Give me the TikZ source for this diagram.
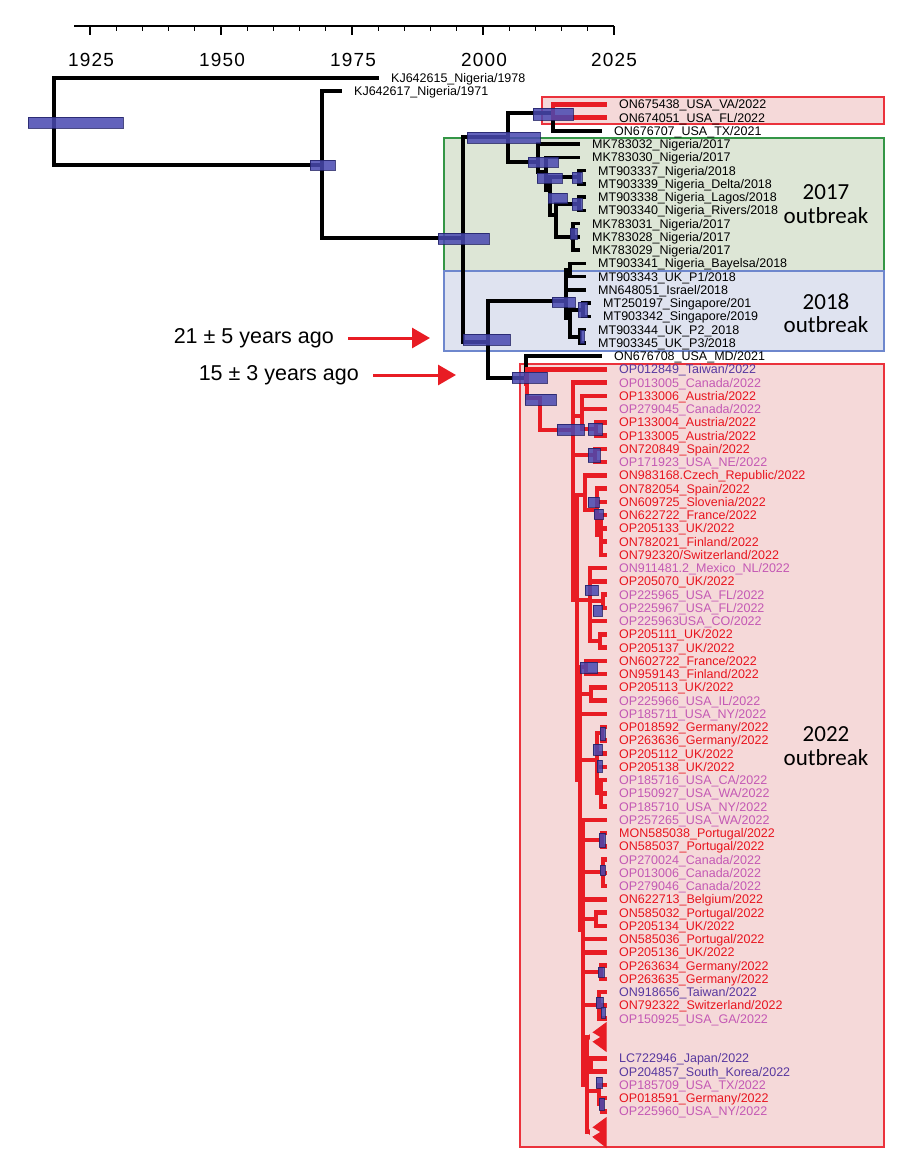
\documentclass[tikz,border=0pt]{standalone}
\usepackage{fontspec}
\setmainfont{Liberation Sans}
\newfontfamily\boxfont{Carlito}
\newfontfamily\axisfont[LetterSpace=6]{Liberation Sans}
\usetikzlibrary{arrows.meta}
\definecolor{treered}{RGB}{232,28,36}
\definecolor{labred}{RGB}{232,20,30}
\definecolor{labpink}{RGB}{196,88,180}
\definecolor{labpurple}{RGB}{88,56,160}
\definecolor{hpdblue}{RGB}{72,72,176}
\definecolor{hpdedge}{RGB}{30,30,100}
\definecolor{boxgreen}{RGB}{221,230,214}
\definecolor{edgegreen}{RGB}{52,150,70}
\definecolor{boxblue}{RGB}{223,227,240}
\definecolor{edgeblue}{RGB}{110,135,205}
\definecolor{boxred}{RGB}{245,217,217}
\definecolor{edgered}{RGB}{235,50,60}
\tikzstyle{blk} = [
	line width=3.5pt,
	line cap=rect,
	draw=black
]
\tikzstyle{rd} = [
	line width=4.5pt,
	line cap=rect,
	draw=treered
]
\tikzstyle{hpd} = [
	fill=hpdblue,
	fill opacity=0.85,
	draw=hpdedge,
	draw opacity=0.8,
	line width=0.6pt
]
\tikzstyle{leaf} = [
	anchor=west,
	inner xsep=14pt,
	inner ysep=0pt,
	text height=8.9pt,
	text depth=0pt,
	font=\fontsize{12.5}{12.5}\selectfont
]
\tikzstyle{redleaf} = [leaf, text=labred]
\tikzstyle{pinkleaf} = [leaf, text=labpink]
\tikzstyle{purpleleaf} = [leaf, text=labpurple]
\tikzstyle{year} = [font=\axisfont\fontsize{19}{19}\selectfont]
\tikzstyle{outbreak} = [
	align=center,
	font=\boxfont\fontsize{23}{23.5}\selectfont
]
\tikzstyle{note} = [
	anchor=east,
	inner sep=0pt,
	font=\fontsize{21.5}{21.5}\selectfont
]
\tikzstyle{pointer} = [
	line width=3pt,
	draw=treered,
	-{Triangle[length=18pt, width=20pt]},
	shorten <=14pt
]

\begin{document}
\begin{tikzpicture}[x=1pt, y=-1pt]
	\useasboundingbox (0,0) rectangle (900,1163);

	% time axis
	\draw [line width=1.2pt] (74,26) -- (614,26)
		(90,26) -- (90,35) (116.2,26) -- (116.2,31) (142.4,26) -- (142.4,31) (168.6,26) -- (168.6,31) (194.8,26) -- (194.8,31)
		(221,26) -- (221,35) (247.2,26) -- (247.2,31) (273.4,26) -- (273.4,31) (299.6,26) -- (299.6,31) (325.8,26) -- (325.8,31)
		(352,26) -- (352,35) (378.2,26) -- (378.2,31) (404.4,26) -- (404.4,31) (430.6,26) -- (430.6,31) (456.8,26) -- (456.8,31)
		(483,26) -- (483,35) (509.2,26) -- (509.2,31) (535.4,26) -- (535.4,31) (561.6,26) -- (561.6,31) (587.8,26) -- (587.8,31)
		(614,26) -- (614,35);
	\node (y1925) [year] at (91,60) {1925};
	\node (y1950) [year] at (222,60) {1950};
	\node (y1975) [year] at (353,60) {1975};
	\node (y2000) [year] at (484,60) {2000};
	\node (y2025) [year] at (614,60) {2025};

	% outbreak boxes
	\filldraw [fill=boxred, draw=edgered, line width=1.2pt] (542,97) rectangle (884,124);
	\filldraw [fill=boxgreen, draw=edgegreen, line width=1.2pt] (444,138) rectangle (884,271);
	\filldraw [fill=boxblue, draw=edgeblue, line width=1.2pt] (444,271) rectangle (884,351);
	\filldraw [fill=boxred, draw=edgered, line width=1.2pt] (520,364) rectangle (884,1147);
	\node (lab17) [outbreak] at (826,204) {2017\\outbreak};
	\node (lab18) [outbreak] at (826,313) {2018\\outbreak};
	\node (lab22) [outbreak] at (826,746) {2022\\outbreak};

	% internal nodes
	\coordinate (root) at (54,122);
	\coordinate (nNig) at (322,165);
	\coordinate (nTop) at (463,238);
	\coordinate (nUp) at (508,137);
	\coordinate (nUSA) at (553,113);
	\coordinate (n17a) at (538,162);
	\coordinate (n17b) at (546,172);
	\coordinate (n17c) at (550,190);
	\coordinate (n18x) at (579,177);
	\coordinate (n17d) at (556,215);
	\coordinate (n18y) at (579,204);
	\coordinate (n17e) at (573,237);
	\coordinate (nLow) at (488,342);
	\coordinate (n18) at (566,301);
	\coordinate (n18a) at (570,270);
	\coordinate (n18b) at (570,318);
	\coordinate (nSg) at (583,310);
	\coordinate (nP) at (580,337);
	\coordinate (nMD) at (526,378);
	\coordinate (n22) at (527,384);
	\coordinate (n22b) at (540,398);
	\coordinate (n22c) at (573,430);
	\coordinate (nAt) at (582,416);
	\coordinate (nAt2) at (596,429);
	\coordinate (nEs) at (595,455);
	\coordinate (n22d) at (577,600);
	\coordinate (nCz) at (585,495);
	\coordinate (nCz2) at (597,510);
	\coordinate (nCz3) at (601,535);
	\coordinate (nMx) at (590,600);
	\coordinate (nFl) at (603,601);
	\coordinate (nUk2) at (600,641);
	\coordinate (n22e) at (580,780);
	\coordinate (nFr) at (586,667);
	\coordinate (nIl) at (591,694);
	\coordinate (nDe) at (597,760);
	\coordinate (nDe2) at (602,733);
	\coordinate (nUs) at (601,793);
	\coordinate (n22f) at (583,930);
	\coordinate (nPt) at (602,840);
	\coordinate (nCa) at (603,872);
	\coordinate (nPt2) at (596,919);
	\coordinate (nDe3) at (601,972);
	\coordinate (nTw) at (599,1005);
	\coordinate (n22g) at (587,1085);
	\coordinate (tri1) at (587,1037);
	\coordinate (nJp) at (591,1065);
	\coordinate (nTx) at (599,1091);
	\coordinate (nDe4) at (602,1104);
	\coordinate (tri2) at (587,1132);

	% tips and labels
	\node (KJ642615) [leaf] at (377,78) {KJ642615\_Nigeria/1978};
	\node (KJ642617) [leaf] at (340,91) {KJ642617\_Nigeria/1971};
	\node (ON675438) [leaf] at (605,104.3) {ON675438\_USA\_VA/2022};
	\node (ON674051) [leaf] at (605,117.6) {ON674051\_USA\_FL/2022};
	\node (ON676707) [leaf] at (600,130.8) {ON676707\_USA\_TX/2021};
	\node (MK783032) [leaf] at (578,144.1) {MK783032\_Nigeria/2017};
	\node (MK783030) [leaf] at (578,157.3) {MK783030\_Nigeria/2017};
	\node (MT903337) [leaf] at (584,170.6) {MT903337\_Nigeria/2018};
	\node (MT903339) [leaf] at (584,183.8) {MT903339\_Nigeria\_Delta/2018};
	\node (MT903338) [leaf] at (584,197.1) {MT903338\_Nigeria\_Lagos/2018};
	\node (MT903340) [leaf] at (584,210.3) {MT903340\_Nigeria\_Rivers/2018};
	\node (MK783031) [leaf] at (578,223.6) {MK783031\_Nigeria/2017};
	\node (MK783028) [leaf] at (578,236.8) {MK783028\_Nigeria/2017};
	\node (MK783029) [leaf] at (578,250.1) {MK783029\_Nigeria/2017};
	\node (MT903341) [leaf] at (584,263.3) {MT903341\_Nigeria\_Bayelsa/2018};
	\node (MT903343) [leaf] at (584,276.6) {MT903343\_UK\_P1/2018};
	\node (MN648051) [leaf] at (584,289.8) {MN648051\_Israel/2018};
	\node (MT250197) [leaf] at (589,303.1) {MT250197\_Singapore/201};
	\node (MT903342) [leaf] at (589,316.3) {MT903342\_Singapore/2019};
	\node (MT903344) [leaf] at (584,329.6) {MT903344\_UK\_P2\_2018};
	\node (MT903345) [leaf] at (584,342.8) {MT903345\_UK\_P3/2018};
	\node (ON676708) [leaf] at (600,356.1) {ON676708\_USA\_MD/2021};
	\node (OP012849) [purpleleaf] at (605,369.3) {OP012849\_Taiwan/2022};
	\node (OP013005) [pinkleaf] at (605,382.6) {OP013005\_Canada/2022};
	\node (OP133006) [redleaf] at (605,395.8) {OP133006\_Austria/2022};
	\node (OP279045) [pinkleaf] at (605,409.1) {OP279045\_Canada/2022};
	\node (OP133004) [redleaf] at (605,422.3) {OP133004\_Austria/2022};
	\node (OP133005) [redleaf] at (605,435.6) {OP133005\_Austria/2022};
	\node (ON720849) [redleaf] at (605,448.8) {ON720849\_Spain/2022};
	\node (OP171923) [pinkleaf] at (605,462.1) {OP171923\_USA\_NE/2022};
	\node (ON983168) [redleaf] at (605,475.3) {ON983168.Czech\_Republic/2022};
	\node (ON782054) [redleaf] at (605,488.6) {ON782054\_Spain/2022};
	\node (ON609725) [redleaf] at (605,501.8) {ON609725\_Slovenia/2022};
	\node (ON622722) [redleaf] at (605,515.1) {ON622722\_France/2022};
	\node (OP205133) [redleaf] at (605,528.3) {OP205133\_UK/2022};
	\node (ON782021) [redleaf] at (605,541.6) {ON782021\_Finland/2022};
	\node (ON792320) [redleaf] at (605,554.8) {ON792320/Switzerland/2022};
	\node (ON911481) [pinkleaf] at (605,568.1) {ON911481.2\_Mexico\_NL/2022};
	\node (OP205070) [redleaf] at (605,581.3) {OP205070\_UK/2022};
	\node (OP225965) [pinkleaf] at (605,594.6) {OP225965\_USA\_FL/2022};
	\node (OP225967) [pinkleaf] at (605,607.8) {OP225967\_USA\_FL/2022};
	\node (OP225963) [pinkleaf] at (605,621.1) {OP225963USA\_CO/2022};
	\node (OP205111) [redleaf] at (605,634.3) {OP205111\_UK/2022};
	\node (OP205137) [redleaf] at (605,647.6) {OP205137\_UK/2022};
	\node (ON602722) [redleaf] at (605,660.8) {ON602722\_France/2022};
	\node (ON959143) [redleaf] at (605,674.1) {ON959143\_Finland/2022};
	\node (OP205113) [redleaf] at (605,687.3) {OP205113\_UK/2022};
	\node (OP225966) [pinkleaf] at (605,700.6) {OP225966\_USA\_IL/2022};
	\node (OP185711) [pinkleaf] at (605,713.8) {OP185711\_USA\_NY/2022};
	\node (OP018592) [redleaf] at (605,727.1) {OP018592\_Germany/2022};
	\node (OP263636) [redleaf] at (605,740.3) {OP263636\_Germany/2022};
	\node (OP205112) [redleaf] at (605,753.6) {OP205112\_UK/2022};
	\node (OP205138) [redleaf] at (605,766.8) {OP205138\_UK/2022};
	\node (OP185716) [pinkleaf] at (605,780.1) {OP185716\_USA\_CA/2022};
	\node (OP150927) [pinkleaf] at (605,793.3) {OP150927\_USA\_WA/2022};
	\node (OP185710) [pinkleaf] at (605,806.6) {OP185710\_USA\_NY/2022};
	\node (OP257265) [pinkleaf] at (605,819.8) {OP257265\_USA\_WA/2022};
	\node (MON585038) [redleaf] at (605,833.1) {MON585038\_Portugal/2022};
	\node (ON585037) [redleaf] at (605,846.3) {ON585037\_Portugal/2022};
	\node (OP270024) [pinkleaf] at (605,859.6) {OP270024\_Canada/2022};
	\node (OP013006) [pinkleaf] at (605,872.8) {OP013006\_Canada/2022};
	\node (OP279046) [pinkleaf] at (605,886.1) {OP279046\_Canada/2022};
	\node (ON622713) [redleaf] at (605,899.3) {ON622713\_Belgium/2022};
	\node (ON585032) [redleaf] at (605,912.6) {ON585032\_Portugal/2022};
	\node (OP205134) [redleaf] at (605,925.8) {OP205134\_UK/2022};
	\node (ON585036) [redleaf] at (605,939.1) {ON585036\_Portugal/2022};
	\node (OP205136) [redleaf] at (605,952.3) {OP205136\_UK/2022};
	\node (OP263634) [redleaf] at (605,965.6) {OP263634\_Germany/2022};
	\node (OP263635) [redleaf] at (605,978.8) {OP263635\_Germany/2022};
	\node (ON918656) [purpleleaf] at (605,992.1) {ON918656\_Taiwan/2022};
	\node (ON792322) [redleaf] at (605,1005.3) {ON792322\_Switzerland/2022};
	\node (OP150925) [pinkleaf] at (605,1018.6) {OP150925\_USA\_GA/2022};
	\node (LC722946) [purpleleaf] at (605,1058.3) {LC722946\_Japan/2022};
	\node (OP204857) [purpleleaf] at (605,1071.6) {OP204857\_South\_Korea/2022};
	\node (OP185709) [pinkleaf] at (605,1084.8) {OP185709\_USA\_TX/2022};
	\node (OP018591) [redleaf] at (605,1098.1) {OP018591\_Germany/2022};
	\node (OP225960) [pinkleaf] at (605,1111.3) {OP225960\_USA\_NY/2022};

	% black branches
	\draw [blk] (root) |- (KJ642615.west);
	\draw [blk] (root) |- (nNig);
	\draw [blk] (nNig) |- (KJ642617.west);
	\draw [blk] (nNig) |- (nTop);
	\draw [blk] (nTop) |- (nUp);
	\draw [blk] (nTop) |- (nLow);
	\draw [blk] (nUp) |- (nUSA);
	\draw [blk] (nUp) |- (n17a);
	\draw [blk] (nUSA) |- (ON676707.west);
	\draw [blk] (n17a) |- (MK783032.west);
	\draw [blk] (n17a) |- (n17b);
	\draw [blk] (n17b) |- (MK783030.west);
	\draw [blk] (n17b) |- (n17c);
	\draw [blk] (n17c) |- (n18x);
	\draw [blk] (n17c) |- (n17d);
	\draw [blk] (n18x) |- (MT903337.west);
	\draw [blk] (n18x) |- (MT903339.west);
	\draw [blk] (n17d) |- (n18y);
	\draw [blk] (n17d) |- (n17e);
	\draw [blk] (n18y) |- (MT903338.west);
	\draw [blk] (n18y) |- (MT903340.west);
	\draw [blk] (n17e) |- (MK783031.west);
	\draw [blk] (n17e) |- (MK783028.west);
	\draw [blk] (n17e) |- (MK783029.west);
	\draw [blk] (nLow) |- (n18);
	\draw [blk] (nLow) |- (nMD);
	\draw [blk] (n18) |- (n18a);
	\draw [blk] (n18) |- (MN648051.west);
	\draw [blk] (n18) |- (n18b);
	\draw [blk] (n18a) |- (MT903341.west);
	\draw [blk] (n18a) |- (MT903343.west);
	\draw [blk] (n18b) |- (nSg);
	\draw [blk] (n18b) |- (nP);
	\draw [blk] (nSg) |- (MT250197.west);
	\draw [blk] (nSg) |- (MT903342.west);
	\draw [blk] (nP) |- (MT903344.west);
	\draw [blk] (nP) |- (MT903345.west);
	\draw [blk] (nMD) |- (ON676708.west);

	% red branches
	\draw [rd] (nUSA) |- (ON675438.west);
	\draw [rd] (nUSA) |- (ON674051.west);
	\draw [rd] (nMD) |- (n22);
	\draw [rd] (n22) |- (OP012849.west);
	\draw [rd] (n22) |- (n22b);
	\draw [rd] (n22b) |- (n22c);
	\draw [rd] (n22c) |- (OP013005.west);
	\draw [rd] (n22c) |- (nAt);
	\draw [rd] (n22c) |- (nEs);
	\draw [rd] (n22c) |- (n22d);
	\draw [rd] (nAt) |- (OP133006.west);
	\draw [rd] (nAt) |- (OP279045.west);
	\draw [rd] (nAt) |- (nAt2);
	\draw [rd] (nAt2) |- (OP133004.west);
	\draw [rd] (nAt2) |- (OP133005.west);
	\draw [rd] (nEs) |- (ON720849.west);
	\draw [rd] (nEs) |- (OP171923.west);
	\draw [rd] (n22d) |- (nCz);
	\draw [rd] (n22d) |- (nMx);
	\draw [rd] (n22d) |- (n22e);
	\draw [rd] (nCz) |- (ON983168.west);
	\draw [rd] (nCz) |- (nCz2);
	\draw [rd] (nCz2) |- (ON782054.west);
	\draw [rd] (nCz2) |- (ON609725.west);
	\draw [rd] (nCz2) |- (nCz3);
	\draw [rd] (nCz3) |- (ON622722.west);
	\draw [rd] (nCz3) |- (OP205133.west);
	\draw [rd] (nCz3) |- (ON782021.west);
	\draw [rd] (nCz3) |- (ON792320.west);
	\draw [rd] (nMx) |- (ON911481.west);
	\draw [rd] (nMx) |- (OP205070.west);
	\draw [rd] (nMx) |- (nFl);
	\draw [rd] (nMx) |- (OP225963.west);
	\draw [rd] (nMx) |- (nUk2);
	\draw [rd] (nFl) |- (OP225965.west);
	\draw [rd] (nFl) |- (OP225967.west);
	\draw [rd] (nUk2) |- (OP205111.west);
	\draw [rd] (nUk2) |- (OP205137.west);
	\draw [rd] (n22e) |- (nFr);
	\draw [rd] (n22e) |- (nIl);
	\draw [rd] (n22e) |- (OP185711.west);
	\draw [rd] (n22e) |- (nDe);
	\draw [rd] (n22e) |- (n22f);
	\draw [rd] (nFr) |- (ON602722.west);
	\draw [rd] (nFr) |- (ON959143.west);
	\draw [rd] (nIl) |- (OP205113.west);
	\draw [rd] (nIl) |- (OP225966.west);
	\draw [rd] (nDe) |- (nDe2);
	\draw [rd] (nDe) |- (OP205112.west);
	\draw [rd] (nDe) |- (OP205138.west);
	\draw [rd] (nDe) |- (nUs);
	\draw [rd] (nDe2) |- (OP018592.west);
	\draw [rd] (nDe2) |- (OP263636.west);
	\draw [rd] (nUs) |- (OP185716.west);
	\draw [rd] (nUs) |- (OP150927.west);
	\draw [rd] (nUs) |- (OP185710.west);
	\draw [rd] (n22f) |- (OP257265.west);
	\draw [rd] (n22f) |- (nPt);
	\draw [rd] (n22f) |- (nCa);
	\draw [rd] (n22f) |- (ON622713.west);
	\draw [rd] (n22f) |- (nPt2);
	\draw [rd] (n22f) |- (ON585036.west);
	\draw [rd] (n22f) |- (OP205136.west);
	\draw [rd] (n22f) |- (nDe3);
	\draw [rd] (n22f) |- (nTw);
	\draw [rd] (n22f) |- (n22g);
	\draw [rd] (nPt) |- (MON585038.west);
	\draw [rd] (nPt) |- (ON585037.west);
	\draw [rd] (nCa) |- (OP270024.west);
	\draw [rd] (nCa) |- (OP013006.west);
	\draw [rd] (nCa) |- (OP279046.west);
	\draw [rd] (nPt2) |- (ON585032.west);
	\draw [rd] (nPt2) |- (OP205134.west);
	\draw [rd] (nDe3) |- (OP263634.west);
	\draw [rd] (nDe3) |- (OP263635.west);
	\draw [rd] (nTw) |- (ON918656.west);
	\draw [rd] (nTw) |- (ON792322.west);
	\draw [rd] (nTw) |- (OP150925.west);
	\draw [rd] (n22g) |- (tri1);
	\draw [rd] (n22g) |- (nJp);
	\draw [rd] (n22g) |- (nTx);
	\draw [rd] (n22g) |- (tri2);
	\draw [rd] (nJp) |- (LC722946.west);
	\draw [rd] (nJp) |- (OP204857.west);
	\draw [rd] (nTx) |- (OP185709.west);
	\draw [rd] (nTx) |- (nDe4);
	\draw [rd] (nDe4) |- (OP018591.west);
	\draw [rd] (nDe4) |- (OP225960.west);

	% collapsed clades
	\filldraw [draw=treered, fill=treered, line width=1pt] (tri1) -- ++(19,-14) -- ++(0,28) -- cycle;
	\fill [boxred] (590,1031) -- (600,1037) -- (590,1043) -- cycle;
	\filldraw [draw=treered, fill=treered, line width=1pt] (tri2) -- ++(19,-14) -- ++(0,29) -- cycle;
	\fill [boxred] (590,1126) -- (600,1132) -- (590,1138) -- cycle;

	% node age bars
	\filldraw [hpd] (28,117) rectangle (123,128);
	\filldraw [hpd] (310,160) rectangle (335,170);
	\filldraw [hpd] (438,233) rectangle (489,244);
	\filldraw [hpd] (467,132) rectangle (540,143);
	\filldraw [hpd] (533,108) rectangle (573,120);
	\filldraw [hpd] (528,157) rectangle (558,167);
	\filldraw [hpd] (537,173) rectangle (562,183);
	\filldraw [hpd] (548,193) rectangle (567,203);
	\filldraw [hpd] (572,172) rectangle (582,183);
	\filldraw [hpd] (572,198) rectangle (582,210);
	\filldraw [hpd] (570,228) rectangle (577,239);
	\filldraw [hpd] (463,334) rectangle (510,345);
	\filldraw [hpd] (552,297) rectangle (575,307);
	\filldraw [hpd] (578,302) rectangle (587,317);
	\filldraw [hpd] (580,330) rectangle (584,343);
	\filldraw [hpd] (512,372) rectangle (547,383);
	\filldraw [hpd] (525,394) rectangle (556,405);
	\filldraw [hpd] (557,424) rectangle (584,435);
	\filldraw [hpd] (588,423) rectangle (602,435);
	\filldraw [hpd] (588,448) rectangle (600,462);
	\filldraw [hpd] (588,497) rectangle (599,507);
	\filldraw [hpd] (594,509) rectangle (603,519);
	\filldraw [hpd] (585,585) rectangle (598,595);
	\filldraw [hpd] (593,605) rectangle (602,616);
	\filldraw [hpd] (580,662) rectangle (597,673);
	\filldraw [hpd] (600,727) rectangle (605,740);
	\filldraw [hpd] (593,744) rectangle (602,755);
	\filldraw [hpd] (597,760) rectangle (602,772);
	\filldraw [hpd] (599,833) rectangle (605,847);
	\filldraw [hpd] (600,865) rectangle (605,875);
	\filldraw [hpd] (598,967) rectangle (604,977);
	\filldraw [hpd] (596,997) rectangle (603,1008);
	\filldraw [hpd] (601,1007) rectangle (605,1018);
	\filldraw [hpd] (596,1077) rectangle (602,1088);
	\filldraw [hpd] (599,1098) rectangle (604,1110);

	% time to common ancestor
	\node (ago21) [note] at (334,338) {21 ± 5 years ago};
	\node (ago15) [note] at (359,375) {15 ± 3 years ago};
	\coordinate (tip21) at (430,338);
	\coordinate (tip15) at (456,375);
	\draw [pointer] (ago21.east) -- (tip21);
	\draw [pointer] (ago15.east) -- (tip15);
\end{tikzpicture}
\end{document}
